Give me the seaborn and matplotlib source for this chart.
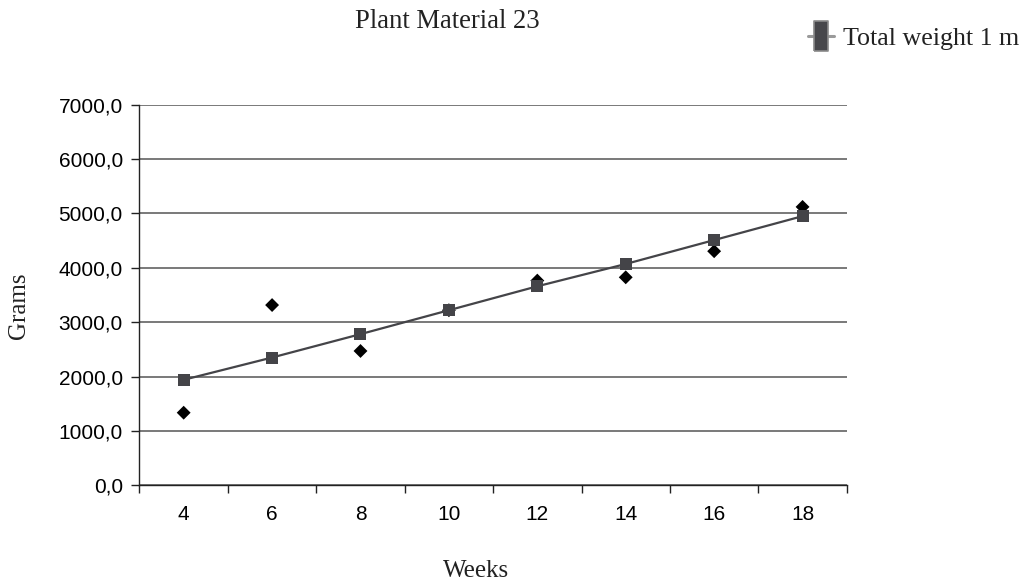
import matplotlib
matplotlib.use("Agg")
import matplotlib.pyplot as plt
import seaborn as sns
import pandas as pd
from matplotlib.ticker import FuncFormatter, FixedLocator
from matplotlib.lines import Line2D

weeks = ["4", "6", "8", "10", "12", "14", "16", "18"]
total_weight = [1940, 2350, 2780, 3220, 3660, 4070, 4510, 4950]
measured = [1335, 3315, 2470, 3220, 3765, 3825, 4305, 5120]
y_ticks = [0, 1000, 2000, 3000, 4000, 5000, 6000, 7000]

df = pd.DataFrame({"Weeks": weeks, "trend": total_weight, "measured": measured})

sns.set_theme(style="white")
plt.rcParams["font.family"] = ["Liberation Sans", "DejaVu Sans"]

fig = plt.figure(figsize=(10.27, 5.8), dpi=100)
ax = fig.add_axes([0.1358, 0.1633, 0.6887, 0.6562])

sns.scatterplot(data=df, x="Weeks", y="measured", marker="D", s=50,
                color="black", edgecolor="none", ax=ax, zorder=3, legend=False)
sns.lineplot(data=df, x="Weeks", y="trend", marker="s", markersize=8.8,
             color="#444448", linewidth=1.6, markeredgewidth=0,
             ax=ax, zorder=4, sort=False, legend=False)

ax.set_xlim(-0.5, len(weeks) - 0.5)
ax.set_ylim(0, 7000)
ax.set_yticks(y_ticks)
ax.yaxis.set_major_formatter(FuncFormatter(lambda v, p: f"{v:.1f}".replace(".", ",")))
ax.grid(axis="y", color="#6e6e6e", linewidth=1.3)
ax.set_axisbelow(True)

for s in ["top", "right"]:
    ax.spines[s].set_visible(False)
for s in ["left", "bottom"]:
    ax.spines[s].set_color("#222222")
    ax.spines[s].set_linewidth(1.0)

ax.xaxis.set_minor_locator(FixedLocator([i - 0.5 for i in range(len(weeks) + 1)]))
ax.tick_params(axis="x", which="major", length=0, pad=14, labelsize=15, colors="black")
ax.tick_params(axis="x", which="minor", length=6, width=1, color="#222222", bottom=True)
ax.tick_params(axis="y", which="major", length=6, width=1, color="#222222", left=True,
               labelsize=15, pad=6, labelcolor="black")

serif = ["Liberation Serif", "DejaVu Serif"]
ax.set_xlabel("Weeks", fontsize=18, family=serif, color="#222222")
ax.set_ylabel("Grams", fontsize=18, family=serif, color="#222222")
ax.xaxis.set_label_coords(0.476, -0.196)
ax.yaxis.set_label_coords(-0.155, 0.471)

fig.text(0.4357, 0.963, "Plant Material 23", ha="center", va="center",
         fontsize=19.2, family=serif, color="#222222")

verts = [(-0.45, -1.0), (0.45, -1.0), (0.45, 1.0), (-0.45, 1.0), (-0.45, -1.0)]
handle = Line2D([], [], color="#9a9a9a", linewidth=2.2, marker=verts, markersize=22,
                markerfacecolor="#47474b", markeredgecolor="#8a8a8a", markeredgewidth=1.2)
leg = ax.legend([handle], ["Total weight 1 m"], loc="center left",
                bbox_to_anchor=(0.7766, 0.934),
                bbox_transform=fig.transFigure, frameon=False,
                prop={"family": serif, "size": 18.7}, handlelength=1.0,
                handletextpad=0.35, borderaxespad=0)
for t in leg.get_texts():
    t.set_color("#222222")

fig.savefig("out.png", dpi=100)
